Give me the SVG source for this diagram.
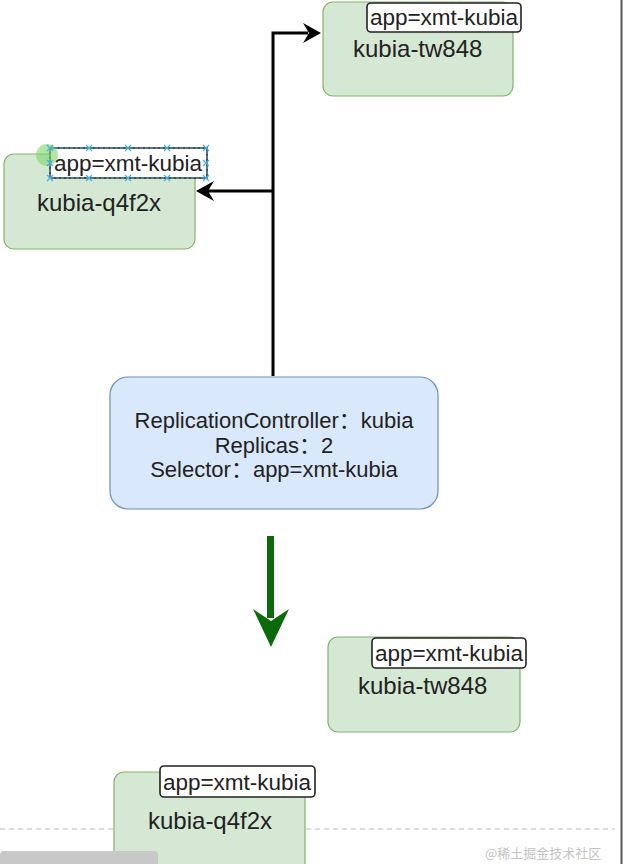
<svg xmlns="http://www.w3.org/2000/svg" width="623" height="864" viewBox="0 0 623 864">
<style>
.pod{fill:#d5e8d4;stroke:#82b366;stroke-width:1.2}
.lbl{fill:#fff;stroke:#222;stroke-width:1.6}
.t{font-family:"Liberation Sans","Noto Sans CJK SC",sans-serif;fill:#222}
.name{font-size:24px}
.tag{font-size:22.5px}
.rc{font-size:22px;text-anchor:middle}
.conn{fill:none;stroke:#000;stroke-width:3}
.h{stroke:#4ab0e0;stroke-width:1.3;fill:none}
</style>
<rect x="0" y="0" width="623" height="864" fill="#fff"/>
<line x1="0" y1="829" x2="615" y2="829" stroke="#bbb" stroke-width="1.2" stroke-dasharray="5 4"/>
<line x1="621.5" y1="0" x2="621.5" y2="864" stroke="#555" stroke-width="2"/>

<g id="connectors">
<path class="conn" d="M273,376 V33 H308"/>
<path d="M321,33 L303,23 L309,33 L303,43 Z" fill="#000"/>
<path class="conn" d="M273,191 H208"/>
<path d="M196,191 L214,181 L208,191 L214,201 Z" fill="#000"/>
<line x1="270.5" y1="536" x2="270.5" y2="618" stroke="#0b6b0b" stroke-width="7"/>
<path d="M271,647 L253,609 L271,621 L289,609 Z" fill="#0b6b0b"/>
</g>

<g id="pod-tw848-top">
<rect class="pod" x="323" y="2" width="190" height="94" rx="10"/>
<rect class="lbl" x="367" y="3" width="154" height="29" rx="4"/>
<text class="t tag" x="444" y="25" text-anchor="middle">app=xmt-kubia</text>
<text class="t name" x="353" y="57">kubia-tw848</text>
</g>

<g id="pod-q4f2x-top">
<rect class="pod" x="4" y="154" width="191" height="95" rx="10"/>
<rect class="lbl" x="50" y="148" width="157" height="30"/>
<text class="t tag" x="128" y="171" text-anchor="middle">app=xmt-kubia</text>
<text class="t name" x="37" y="211">kubia-q4f2x</text>
<rect x="50" y="148" width="157" height="30" fill="none" stroke="#4ab0e0" stroke-width="1" stroke-dasharray="3 2"/>
<circle cx="47" cy="155" r="11" fill="#7fd66a" opacity="0.6"/>
<g class="h">
<path d="M47,145 l6,6 m0,-6 l-6,6"/><path d="M86,145 l6,6 m0,-6 l-6,6"/><path d="M125,145 l6,6 m0,-6 l-6,6"/><path d="M164,145 l6,6 m0,-6 l-6,6"/><path d="M203,145 l6,6 m0,-6 l-6,6"/>
<path d="M47,175 l6,6 m0,-6 l-6,6"/><path d="M86,175 l6,6 m0,-6 l-6,6"/><path d="M125,175 l6,6 m0,-6 l-6,6"/><path d="M164,175 l6,6 m0,-6 l-6,6"/><path d="M203,175 l6,6 m0,-6 l-6,6"/>
<path d="M203,160 l6,6 m0,-6 l-6,6"/><path d="M47,160 l6,6 m0,-6 l-6,6"/>
</g>
</g>

<g id="rc">
<rect x="110" y="377" width="328" height="132" rx="18" fill="#dae8fc" stroke="#6c8ebf" stroke-width="1.2"/>
<text class="t rc" x="274" y="428">ReplicationController：kubia</text>
<text class="t rc" x="274" y="453">Replicas：2</text>
<text class="t rc" x="274" y="477">Selector：app=xmt-kubia</text>
</g>

<g id="pod-tw848-bottom">
<rect class="pod" x="328" y="637" width="192" height="95" rx="10"/>
<rect class="lbl" x="372" y="638" width="154" height="30" rx="4"/>
<text class="t tag" x="449" y="661" text-anchor="middle">app=xmt-kubia</text>
<text class="t name" x="358" y="694">kubia-tw848</text>
</g>

<g id="pod-q4f2x-bottom">
<rect class="pod" x="114" y="772" width="191" height="110" rx="10"/>
<rect class="lbl" x="160" y="766" width="155" height="31" rx="4"/>
<text class="t tag" x="237" y="790" text-anchor="middle">app=xmt-kubia</text>
<text class="t name" x="148" y="829">kubia-q4f2x</text>
</g>

<rect x="0" y="851" width="158" height="20" rx="4" fill="#c8c8c8"/>
<text x="485" y="858" font-family="'Noto Sans CJK SC',sans-serif" font-size="13" fill="#c4c4c4">@稀土掘金技术社区</text>
</svg>
